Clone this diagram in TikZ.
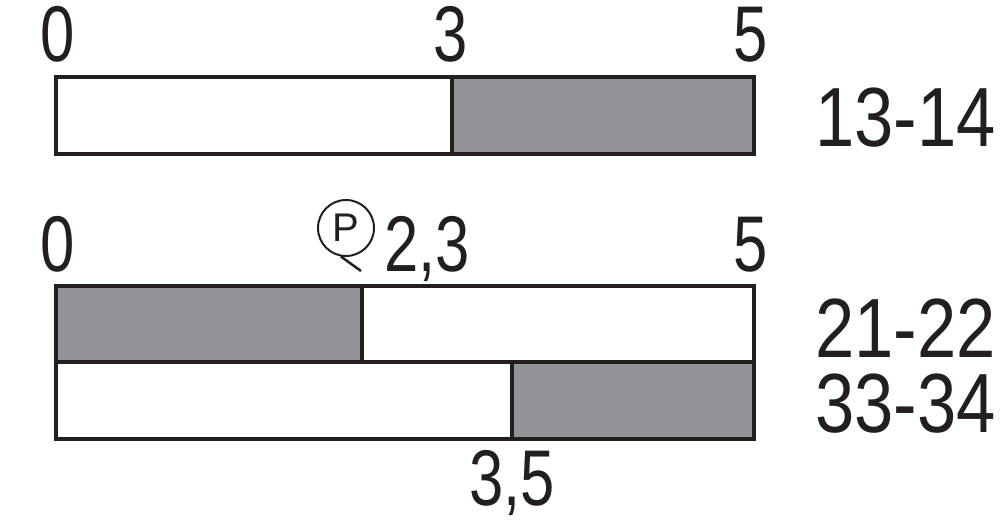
\documentclass[tikz,border=0pt]{standalone}
\usepackage{fontspec}
\setmainfont{Liberation Sans}
\definecolor{ink}{HTML}{231F20}
\definecolor{fillgray}{HTML}{939497}
\tikzset{
  bar/.style={draw=ink, line width=4pt},
  shade/.style={fill=fillgray},
  scalelbl/.style={inner sep=0pt, anchor=base, text=ink, font=\fontsize{79}{79}\selectfont, xscale=0.78},
  contactlbl/.style={inner sep=0pt, anchor=base west, text=ink, text height=60pt, text depth=0pt, font=\fontsize{84}{84}\selectfont, xscale=0.84},
}
\begin{document}
\begin{tikzpicture}[x=1pt,y=-1pt]
\useasboundingbox (0,0) rectangle (1000,526);
% bar 1
\fill[shade] (452,77) rectangle (754,154);
\draw[bar] (56,77) rectangle (754,154);
\draw[bar] (452,77) -- (452,154);
% bar 2
\fill[shade] (56,286) rectangle (362,362);
\draw[bar] (56,286) rectangle (754,362);
\draw[bar] (362,286) -- (362,362);
% bar 3
\fill[shade] (512,362) rectangle (754,439);
\draw[bar] (56,362) rectangle (754,439);
\draw[bar] (512,362) -- (512,439);
% scale labels
\node[scalelbl] (a0) at (58,62) {0};
\node[scalelbl] (a3) at (451,62) {3};
\node[scalelbl] (a5) at (751,62) {5};
\node[scalelbl] (b0) at (58,272) {0};
\node[scalelbl] (b23) at (427,272) {2,3};
\node[scalelbl] (b5) at (751,272) {5};
\node[scalelbl] (c35) at (512,505) {3,5};
% P symbol
\node[draw=ink, line width=2pt, circle, minimum size=56pt, inner sep=0pt, text=ink, font=\fontsize{40}{40}\selectfont] (p) at (346,228) {P};
\coordinate (ptail) at (361,271);
\draw[ink, line width=2.5pt] (p.-100) -- (ptail);
% contact labels
\node[contactlbl] (l1) at (815,147) {13-14};
\node[contactlbl] (l2) at (815,357) {21-22};
\node[contactlbl] (l3) at (815,432) {33-34};
\end{tikzpicture}
\end{document}
